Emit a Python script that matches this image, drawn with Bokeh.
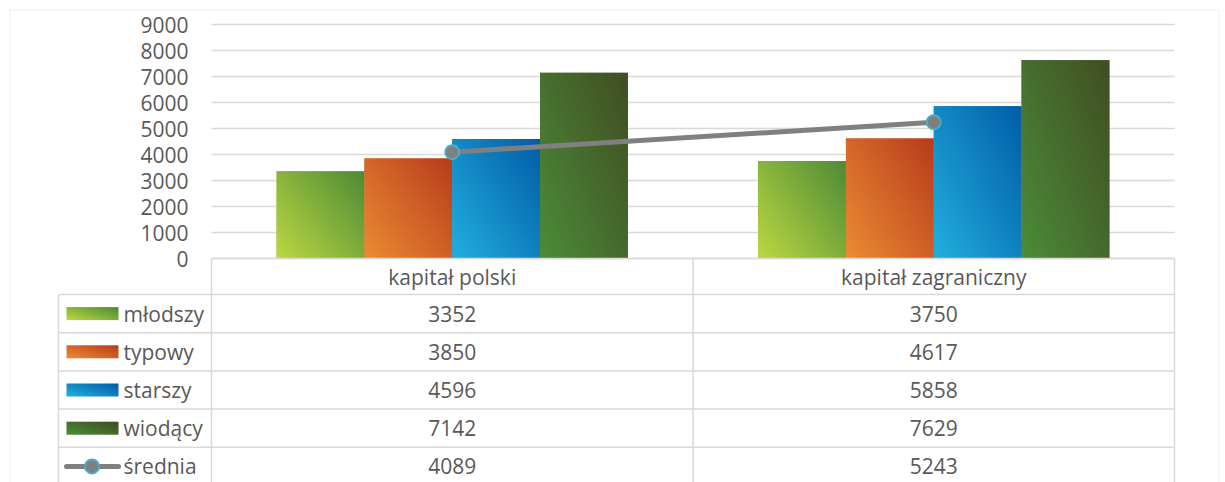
import numpy as np
from bokeh.plotting import figure
from bokeh.models import Range1d, FixedTicker, BoxAnnotation, ColumnDataSource
from bokeh.core.properties import value
from bokeh.embed import file_html
from bokeh.resources import INLINE

# ---------------- data ----------------
categories = ["kapitał polski", "kapitał zagraniczny"]
series_names = ["młodszy", "typowy", "starszy", "wiodący"]
mlodszy = [3352, 3750]
typowy = [3850, 4617]
starszy = [4596, 5858]
wiodacy = [7142, 7629]
srednia = [4089, 5243]
avg_name = "średnia"
y_ticks = [0, 1000, 2000, 3000, 4000, 5000, 6000, 7000, 8000, 9000]

series_values = [mlodszy, typowy, starszy, wiodacy]

# ---------------- style ----------------
grad_start = ["#BCD843", "#EB8C33", "#22AFDE", "#4C8C3A"]
grad_end = ["#4E8B35", "#B83C1C", "#025DA8", "#414E22"]
grid_col = "#D9D9D9"
text_col = "#595959"
FONT = "Open Sans"
FSIZE = "21px"

# ---------------- geometry (canvas px) ----------------
W, H = 1225, 482
X0, XPU = 211.0, 481.5           # canvas x of category-axis origin, px per category
XEND = X0 + 2 * XPU
Y0, YPU = 258.0, 234.0 / 9000.0  # canvas y of value 0, px per value unit
BW = 0.1824                       # bar width (category units)
ROW0, PITCH, NROWS = 294.0, 38.2, 5


def dx(px):
    return (px - X0) / XPU


def dy(py):
    return (Y0 - py) / YPU


p = figure(width=W, height=H,
           x_range=Range1d(dx(0), dx(W)), y_range=Range1d(dy(H), dy(0)),
           x_axis_location=None, title=None,
           output_backend="svg", toolbar_location=None,
           min_border_left=0, min_border_right=0,
           min_border_top=0, min_border_bottom=0)
p.outline_line_color = None
p.background_fill_color = "white"
p.border_fill_color = "white"

ticker = FixedTicker(ticks=y_ticks)
yax = p.yaxis[0]
yax.ticker = ticker
yax.fixed_location = 0
yax.axis_line_color = None
yax.major_tick_line_color = None
yax.minor_tick_line_color = None
yax.major_tick_out = 0
yax.major_tick_in = 0
yax.major_label_standoff = 23
yax.major_label_text_font = FONT
yax.major_label_text_font_size = FSIZE
yax.major_label_text_color = text_col

grid = p.ygrid[0]
grid.ticker = ticker
grid.grid_line_color = grid_col
grid.grid_line_width = 1.5
try:
    grid.cross_bounds = (0, len(categories))
except Exception:
    grid.visible = False
    p.segment(x0=[0] * len(y_ticks), x1=[len(categories)] * len(y_ticks),
              y0=y_ticks, y1=y_ticks, line_color=grid_col, line_width=1.5)
for g in p.xgrid:
    g.visible = False


def hex2rgb(h):
    h = h.lstrip("#")
    return np.array([int(h[i:i + 2], 16) for i in (0, 2, 4)], dtype=float)


def gradient_image(c0, c1, rows=200, cols=88):
    u = np.linspace(0, 1, cols)[None, :]
    v = np.linspace(0, 1, rows)[:, None]
    t = (0.55 * u + 0.45 * v)[..., None]
    rgb = hex2rgb(c0) * (1 - t) + hex2rgb(c1) * t
    img = np.empty((rows, cols), dtype=np.uint32)
    view = img.view(dtype=np.uint8).reshape((rows, cols, 4))
    view[..., :3] = np.clip(rgb, 0, 255).astype(np.uint8)
    view[..., 3] = 255
    return img


def mix(c0, c1, t):
    r = hex2rgb(c0) * (1 - t) + hex2rgb(c1) * t
    return "#%02x%02x%02x" % tuple(int(round(x)) for x in r)


centers = [i + 0.5 for i in range(len(categories))]
offsets = [(-1.5 + j) * BW for j in range(len(series_names))]

# ---------------- bars ----------------
for j, (name, vals) in enumerate(zip(series_names, series_values)):
    xs = [c + offsets[j] for c in centers]
    p.vbar(x=xs, top=vals, bottom=0, width=BW,
           fill_color=mix(grad_start[j], grad_end[j], 0.5), line_color=None)
    img = gradient_image(grad_start[j], grad_end[j])
    src = ColumnDataSource(dict(image=[img] * len(vals), x=[x - BW / 2 for x in xs],
                                y=[0] * len(vals), dw=[BW] * len(vals), dh=vals))
    p.image_rgba(image="image", x="x", y="y", dw="dw", dh="dh", source=src)

# ---------------- average line ----------------
p.line(x=centers, y=srednia, line_color="#808080", line_width=5)
p.scatter(x=centers, y=srednia, marker="circle", size=14,
          fill_color="#7F7F7F", line_color="#4BACC6", line_width=2)

# ---------------- data table ----------------
LX0 = 58.0
row_tops = [ROW0 + k * PITCH for k in range(NROWS + 1)]
hy = [dy(Y0)] + [dy(r) for r in row_tops]
hx0 = [0] + [dx(LX0)] * len(row_tops)
p.segment(x0=hx0, x1=[len(categories)] * len(hy), y0=hy, y1=hy,
          line_color=grid_col, line_width=1.5)
vx = list(range(len(categories) + 1))
p.segment(x0=vx, x1=vx, y0=[dy(Y0)] * len(vx), y1=[dy(H + 20)] * len(vx),
          line_color=grid_col, line_width=1.5)
p.segment(x0=[dx(LX0)], x1=[dx(LX0)], y0=[dy(ROW0)], y1=[dy(H + 20)],
          line_color=grid_col, line_width=1.5)

p.text(x=centers, y=[dy((Y0 + ROW0) / 2)] * len(centers), text=categories,
       text_font=value(FONT), text_font_size=FSIZE, text_color=text_col,
       text_align="center", text_baseline="middle")

all_rows = series_values + [srednia]
for k, vals in enumerate(all_rows):
    yc = ROW0 + k * PITCH + PITCH / 2
    p.text(x=centers, y=[dy(yc)] * len(centers), text=[str(v) for v in vals],
           text_font=value(FONT), text_font_size=FSIZE, text_color=text_col,
           text_align="center", text_baseline="middle")

# ---------------- legend column ----------------
all_names = series_names + [avg_name]
row_centers = [ROW0 + j * PITCH + PITCH / 2 for j in range(len(all_names))]
for j in range(len(series_names)):
    yc = row_centers[j]
    sw = gradient_image(grad_start[j], grad_end[j], rows=13, cols=52)
    p.image_rgba(image=[sw], x=[dx(66)], y=[dy(yc + 6.5)], dw=[52 / XPU], dh=[13 / YPU])

yc = row_centers[-1]
p.segment(x0=[dx(66)], x1=[dx(118)], y0=[dy(yc)], y1=[dy(yc)],
          line_color="#808080", line_width=5, line_cap="round")
p.scatter(x=[dx(91.5)], y=[dy(yc)], marker="circle", size=14,
          fill_color="#7F7F7F", line_color="#4BACC6", line_width=2)

p.text(x=[dx(123)] * len(all_names), y=[dy(c) for c in row_centers], text=all_names,
       text_font=value(FONT), text_font_size=FSIZE, text_color=text_col,
       text_align="left", text_baseline="middle")

# ---------------- outer chart border ----------------
p.add_layout(BoxAnnotation(left=dx(9.5), right=dx(1218.5), top=dy(9.5), bottom=dy(H + 30),
                           fill_alpha=0, line_color=grid_col, line_width=1.5,
                           level="overlay"))

open("out.html", "w").write(file_html(p, INLINE))
